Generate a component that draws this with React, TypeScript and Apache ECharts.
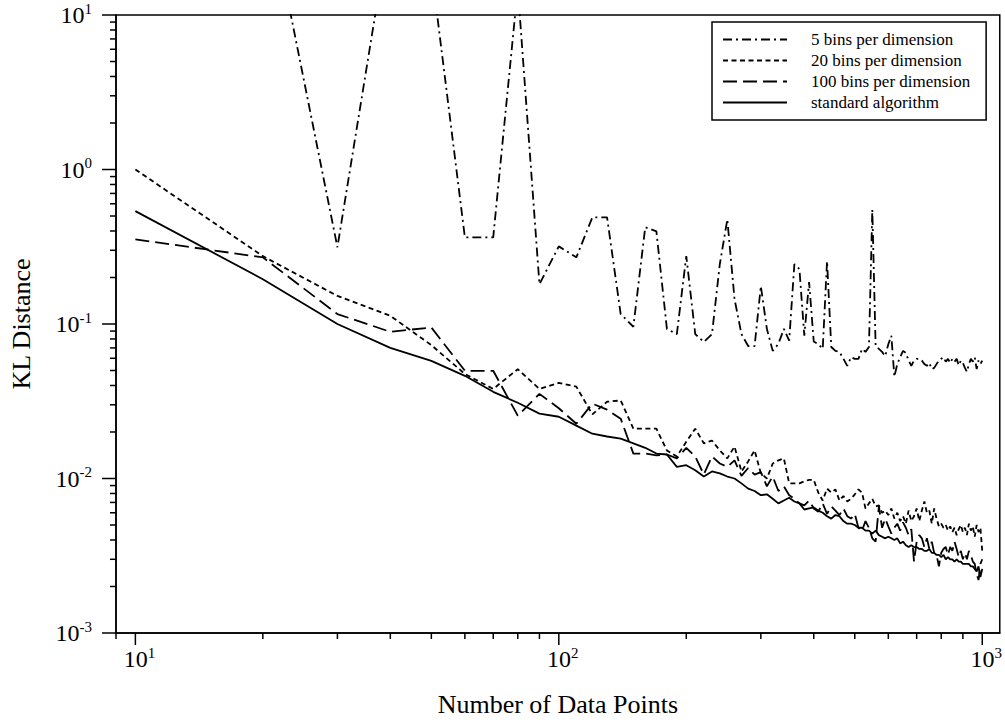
import React, { useEffect, useRef } from 'react';
import * as echarts from 'echarts';

const N = [
  10, 20, 30, 40, 50, 60, 70, 80, 90, 100,
  110, 120, 130, 140, 150, 160, 170, 180, 190, 200,
  210, 220, 230, 240, 250, 260, 270, 280, 290, 300,
  310, 320, 330, 340, 350, 360, 370, 380, 390, 400,
  410, 420, 430, 440, 450, 460, 470, 480, 490, 500,
  510, 520, 530, 540, 550, 560, 570, 580, 590, 600,
  610, 620, 630, 640, 650, 660, 670, 680, 690, 700,
  710, 720, 730, 740, 750, 760, 770, 780, 790, 800,
  810, 820, 830, 840, 850, 860, 870, 880, 890, 900,
  910, 920, 930, 940, 950, 960, 970, 980, 990, 1000,
];

const FIVE_BINS = [
  60, 80, 0.314, 40, 20, 0.364, 0.364, 15, 0.181, 0.318,
  0.27, 0.49, 0.49, 0.116, 0.096, 0.423, 0.398, 0.093, 0.086, 0.275,
  0.086, 0.0766, 0.086, 0.244, 0.475, 0.145, 0.086, 0.072, 0.072, 0.176,
  0.093, 0.067, 0.0743, 0.093, 0.078, 0.244, 0.227, 0.084, 0.187, 0.077,
  0.074, 0.069, 0.255, 0.071, 0.067, 0.066, 0.0595, 0.0536, 0.061, 0.0595,
  0.0595, 0.069, 0.066, 0.071, 0.55, 0.072, 0.069, 0.066, 0.062, 0.074,
  0.084, 0.0456, 0.055, 0.061, 0.067, 0.065, 0.058, 0.0536, 0.058, 0.0595,
  0.0595, 0.058, 0.055, 0.0536, 0.056, 0.051, 0.052, 0.055, 0.058, 0.0595,
  0.061, 0.057, 0.0595, 0.056, 0.0595, 0.057, 0.0595, 0.054, 0.058, 0.056,
  0.052, 0.049, 0.055, 0.0595, 0.057, 0.061, 0.051, 0.058, 0.055, 0.058,
];

const TWENTY_BINS = [
  1.0, 0.275, 0.152, 0.113, 0.073, 0.0475, 0.038, 0.051, 0.038, 0.0416,
  0.0393, 0.026, 0.0314, 0.032, 0.021, 0.021, 0.021, 0.0152, 0.0139, 0.0173,
  0.021, 0.0169, 0.0176, 0.0152, 0.0135, 0.0161, 0.0111, 0.0129, 0.0152, 0.0108,
  0.01, 0.0125, 0.0131, 0.0135, 0.0093, 0.0093, 0.0093, 0.0096, 0.0098, 0.0098,
  0.0081, 0.0072, 0.0086, 0.0081, 0.0085, 0.0072, 0.0077, 0.0071, 0.0074, 0.0079,
  0.0085, 0.0081, 0.0064, 0.0069, 0.0074, 0.0066, 0.0067, 0.006, 0.0062, 0.0058,
  0.0064, 0.0055, 0.006, 0.0053, 0.0057, 0.0051, 0.0062, 0.0053, 0.0057, 0.0064,
  0.0053, 0.0062, 0.0071, 0.006, 0.0062, 0.0051, 0.0064, 0.0055, 0.0049, 0.0051,
  0.0048, 0.005, 0.0046, 0.0049, 0.0045, 0.0048, 0.0043, 0.0047, 0.005, 0.0045,
  0.0048, 0.0043, 0.0051, 0.0046, 0.0049, 0.0042, 0.005, 0.0045, 0.0048, 0.0034,
];

const HUNDRED_BINS = [
  0.353, 0.27, 0.116, 0.089, 0.095, 0.0498, 0.0498, 0.0255, 0.0353, 0.0285,
  0.0226, 0.0305, 0.0279, 0.0244, 0.0145, 0.0145, 0.0141, 0.0143, 0.0135, 0.0158,
  0.0139, 0.0106, 0.0139, 0.0125, 0.0119, 0.0131, 0.0104, 0.0117, 0.0106, 0.011,
  0.0089, 0.0103, 0.0083, 0.0089, 0.0078, 0.0074, 0.0069, 0.0067, 0.0072, 0.0064,
  0.0061, 0.0069, 0.0059, 0.0066, 0.0062, 0.0058, 0.0064, 0.0057, 0.0055, 0.0059,
  0.0048, 0.0046, 0.0053, 0.0048, 0.0041, 0.0039, 0.0066, 0.0048, 0.0055, 0.0049,
  0.0044, 0.0048, 0.0051, 0.0046, 0.0052, 0.0048, 0.0043, 0.0047, 0.0029, 0.0039,
  0.0043, 0.0041, 0.0036, 0.0041, 0.0035, 0.0039, 0.0033, 0.0032, 0.0027, 0.0033,
  0.0035, 0.0036, 0.0032, 0.0036, 0.0034, 0.0039, 0.0035, 0.0031, 0.0034, 0.003,
  0.0033, 0.003, 0.0034, 0.0032, 0.0029, 0.0028, 0.0024, 0.0022, 0.0028, 0.003,
];

const STANDARD = [
  0.538, 0.195, 0.1, 0.07, 0.0577, 0.0462, 0.0364, 0.0309, 0.0263, 0.0251,
  0.022, 0.0195, 0.0187, 0.0181, 0.0169, 0.0158, 0.0145, 0.0143, 0.0119, 0.0122,
  0.0113, 0.0103, 0.0111, 0.0108, 0.0103, 0.01, 0.0093, 0.0086, 0.0083, 0.0078,
  0.0079, 0.0074, 0.0069, 0.0072, 0.0075, 0.0071, 0.0069, 0.0063, 0.0064, 0.0065,
  0.0062, 0.006, 0.0057, 0.0055, 0.0058, 0.0057, 0.0053, 0.0051, 0.0051, 0.005,
  0.0048, 0.0048, 0.0046, 0.0046, 0.0044, 0.0046, 0.0043, 0.0042, 0.0041, 0.0042,
  0.0041, 0.004, 0.0041, 0.0038, 0.0039, 0.0037, 0.0036, 0.0037, 0.0036, 0.0036,
  0.0035, 0.0035, 0.0034, 0.0034, 0.0035, 0.0033, 0.0033, 0.0032, 0.0032, 0.0031,
  0.0032, 0.003, 0.0031, 0.003, 0.003, 0.0029, 0.003, 0.0029, 0.0029, 0.0028,
  0.0028, 0.0028, 0.0028, 0.0027, 0.0027, 0.0026, 0.0025, 0.0027, 0.0023, 0.0026,
];

const SERIES_NAMES = [
  '5 bins per dimension',
  '20 bins per dimension',
  '100 bins per dimension',
  'standard algorithm',
];

const X_MIN = 9;
const X_MAX = 1100;
const Y_MIN = 0.001;
const Y_MAX = 10;

const X_MAJOR_TICKS = [10, 100, 1000];
const X_MINOR_TICKS = [9, 20, 30, 40, 50, 60, 70, 80, 90, 200, 300, 400, 500, 600, 700, 800, 900];
const Y_MAJOR_TICKS = [0.001, 0.01, 0.1, 1, 10];
const Y_MINOR_TICKS = [
  0.002, 0.003, 0.004, 0.005, 0.006, 0.007, 0.008, 0.009,
  0.02, 0.03, 0.04, 0.05, 0.06, 0.07, 0.08, 0.09,
  0.2, 0.3, 0.4, 0.5, 0.6, 0.7, 0.8, 0.9,
  2, 3, 4, 5, 6, 7, 8, 9,
];

const FONT = 'Liberation Serif';
const INK = '#000';
const LINE_W = 1.8;

const powLabel = (v: number) => {
  const e = Math.log10(v);
  const r = Math.round(e);
  if (Math.abs(e - r) > 1e-6) return '';
  return `{b|10}{s|${r}}`;
};

const lineSeries = (name: string, values: number[], type: any, z: number) => ({
  name,
  type: 'line',
  data: N.map((n, i) => [n, values[i]]),
  symbol: 'none',
  showSymbol: false,
  silent: true,
  clip: true,
  z,
  lineStyle: { color: INK, width: LINE_W, type },
  itemStyle: { color: INK },
});

const tickSeries = (axis: 'x' | 'y', values: number[], len: number) => ({
  type: 'custom',
  coordinateSystem: 'cartesian2d',
  silent: true,
  clip: false,
  z: 10,
  data: values.map((v) => (axis === 'x' ? [v, Y_MIN] : [X_MIN, v])),
  renderItem: (_params: any, api: any) => {
    const p = api.coord([api.value(0), api.value(1)]);
    const shape =
      axis === 'x'
        ? { x1: p[0], y1: p[1], x2: p[0], y2: p[1] + len }
        : { x1: p[0], y1: p[1], x2: p[0] - len, y2: p[1] };
    return { type: 'line', shape, style: { stroke: INK, lineWidth: 1.5 } };
  },
});

export default function App() {
  const ref = useRef<HTMLDivElement>(null);

  useEffect(() => {
    document.body.style.margin = '0';
    const chart = echarts.init(ref.current!, null, { renderer: 'svg' });
    const richLabel = {
      b: { fontFamily: FONT, fontSize: 24, color: INK, lineHeight: 28 },
      s: { fontFamily: FONT, fontSize: 15, color: INK, verticalAlign: 'top', lineHeight: 14 },
    };
    chart.setOption({
      animation: false,
      backgroundColor: '#fff',
      textStyle: { fontFamily: FONT },
      grid: {
        left: 116,
        right: 5,
        top: 15,
        bottom: 90,
        show: true,
        borderColor: INK,
        borderWidth: 1.5,
        backgroundColor: 'transparent',
      },
      legend: {
        orient: 'vertical',
        left: 712,
        top: 22,
        data: SERIES_NAMES,
        selectedMode: false,
        itemWidth: 64,
        itemHeight: 14,
        itemGap: 4,
        padding: [9, 16, 9, 10],
        borderColor: INK,
        borderWidth: 1.5,
        backgroundColor: '#fff',
        itemStyle: { opacity: 0 },
        textStyle: { fontFamily: FONT, fontSize: 17, color: INK, padding: [0, 0, 0, 19] },
      },
      xAxis: {
        type: 'log',
        logBase: 10,
        min: X_MIN,
        max: X_MAX,
        name: 'Number of Data Points',
        nameLocation: 'middle',
        nameGap: 58,
        nameTextStyle: { fontFamily: FONT, fontSize: 26, color: INK },
        axisLine: { show: true, onZero: false, lineStyle: { color: INK, width: 1.5 } },
        axisTick: { show: false },
        minorTick: { show: false },
        splitLine: { show: false },
        axisLabel: {
          margin: 12,
          fontFamily: FONT,
          fontSize: 24,
          formatter: powLabel,
          rich: {
            b: { ...richLabel.b, padding: [0, 0, 0, 8] },
            s: richLabel.s,
          },
        },
      },
      yAxis: {
        type: 'log',
        logBase: 10,
        min: Y_MIN,
        max: Y_MAX,
        name: 'KL Distance',
        nameLocation: 'middle',
        nameGap: 82,
        nameTextStyle: { fontFamily: FONT, fontSize: 26, color: INK },
        axisLine: { show: true, onZero: false, lineStyle: { color: INK, width: 1.5 } },
        axisTick: { show: false },
        minorTick: { show: false },
        splitLine: { show: false },
        axisLabel: {
          margin: 24,
          fontFamily: FONT,
          fontSize: 24,
          formatter: powLabel,
          rich: richLabel,
        },
      },
      series: [
        lineSeries(SERIES_NAMES[0], FIVE_BINS, [9, 4, 2, 4], 2),
        lineSeries(SERIES_NAMES[1], TWENTY_BINS, [5, 3.5], 3),
        lineSeries(SERIES_NAMES[2], HUNDRED_BINS, [14, 6], 4),
        lineSeries(SERIES_NAMES[3], STANDARD, 'solid', 5),
        tickSeries('x', X_MAJOR_TICKS, 12),
        tickSeries('x', X_MINOR_TICKS, 6),
        tickSeries('y', Y_MAJOR_TICKS, 14),
        tickSeries('y', Y_MINOR_TICKS, 6),
      ],
    });
    return () => chart.dispose();
  }, []);

  return <div ref={ref} style={{ width: 1005, height: 723, background: '#fff' }} />;
}
